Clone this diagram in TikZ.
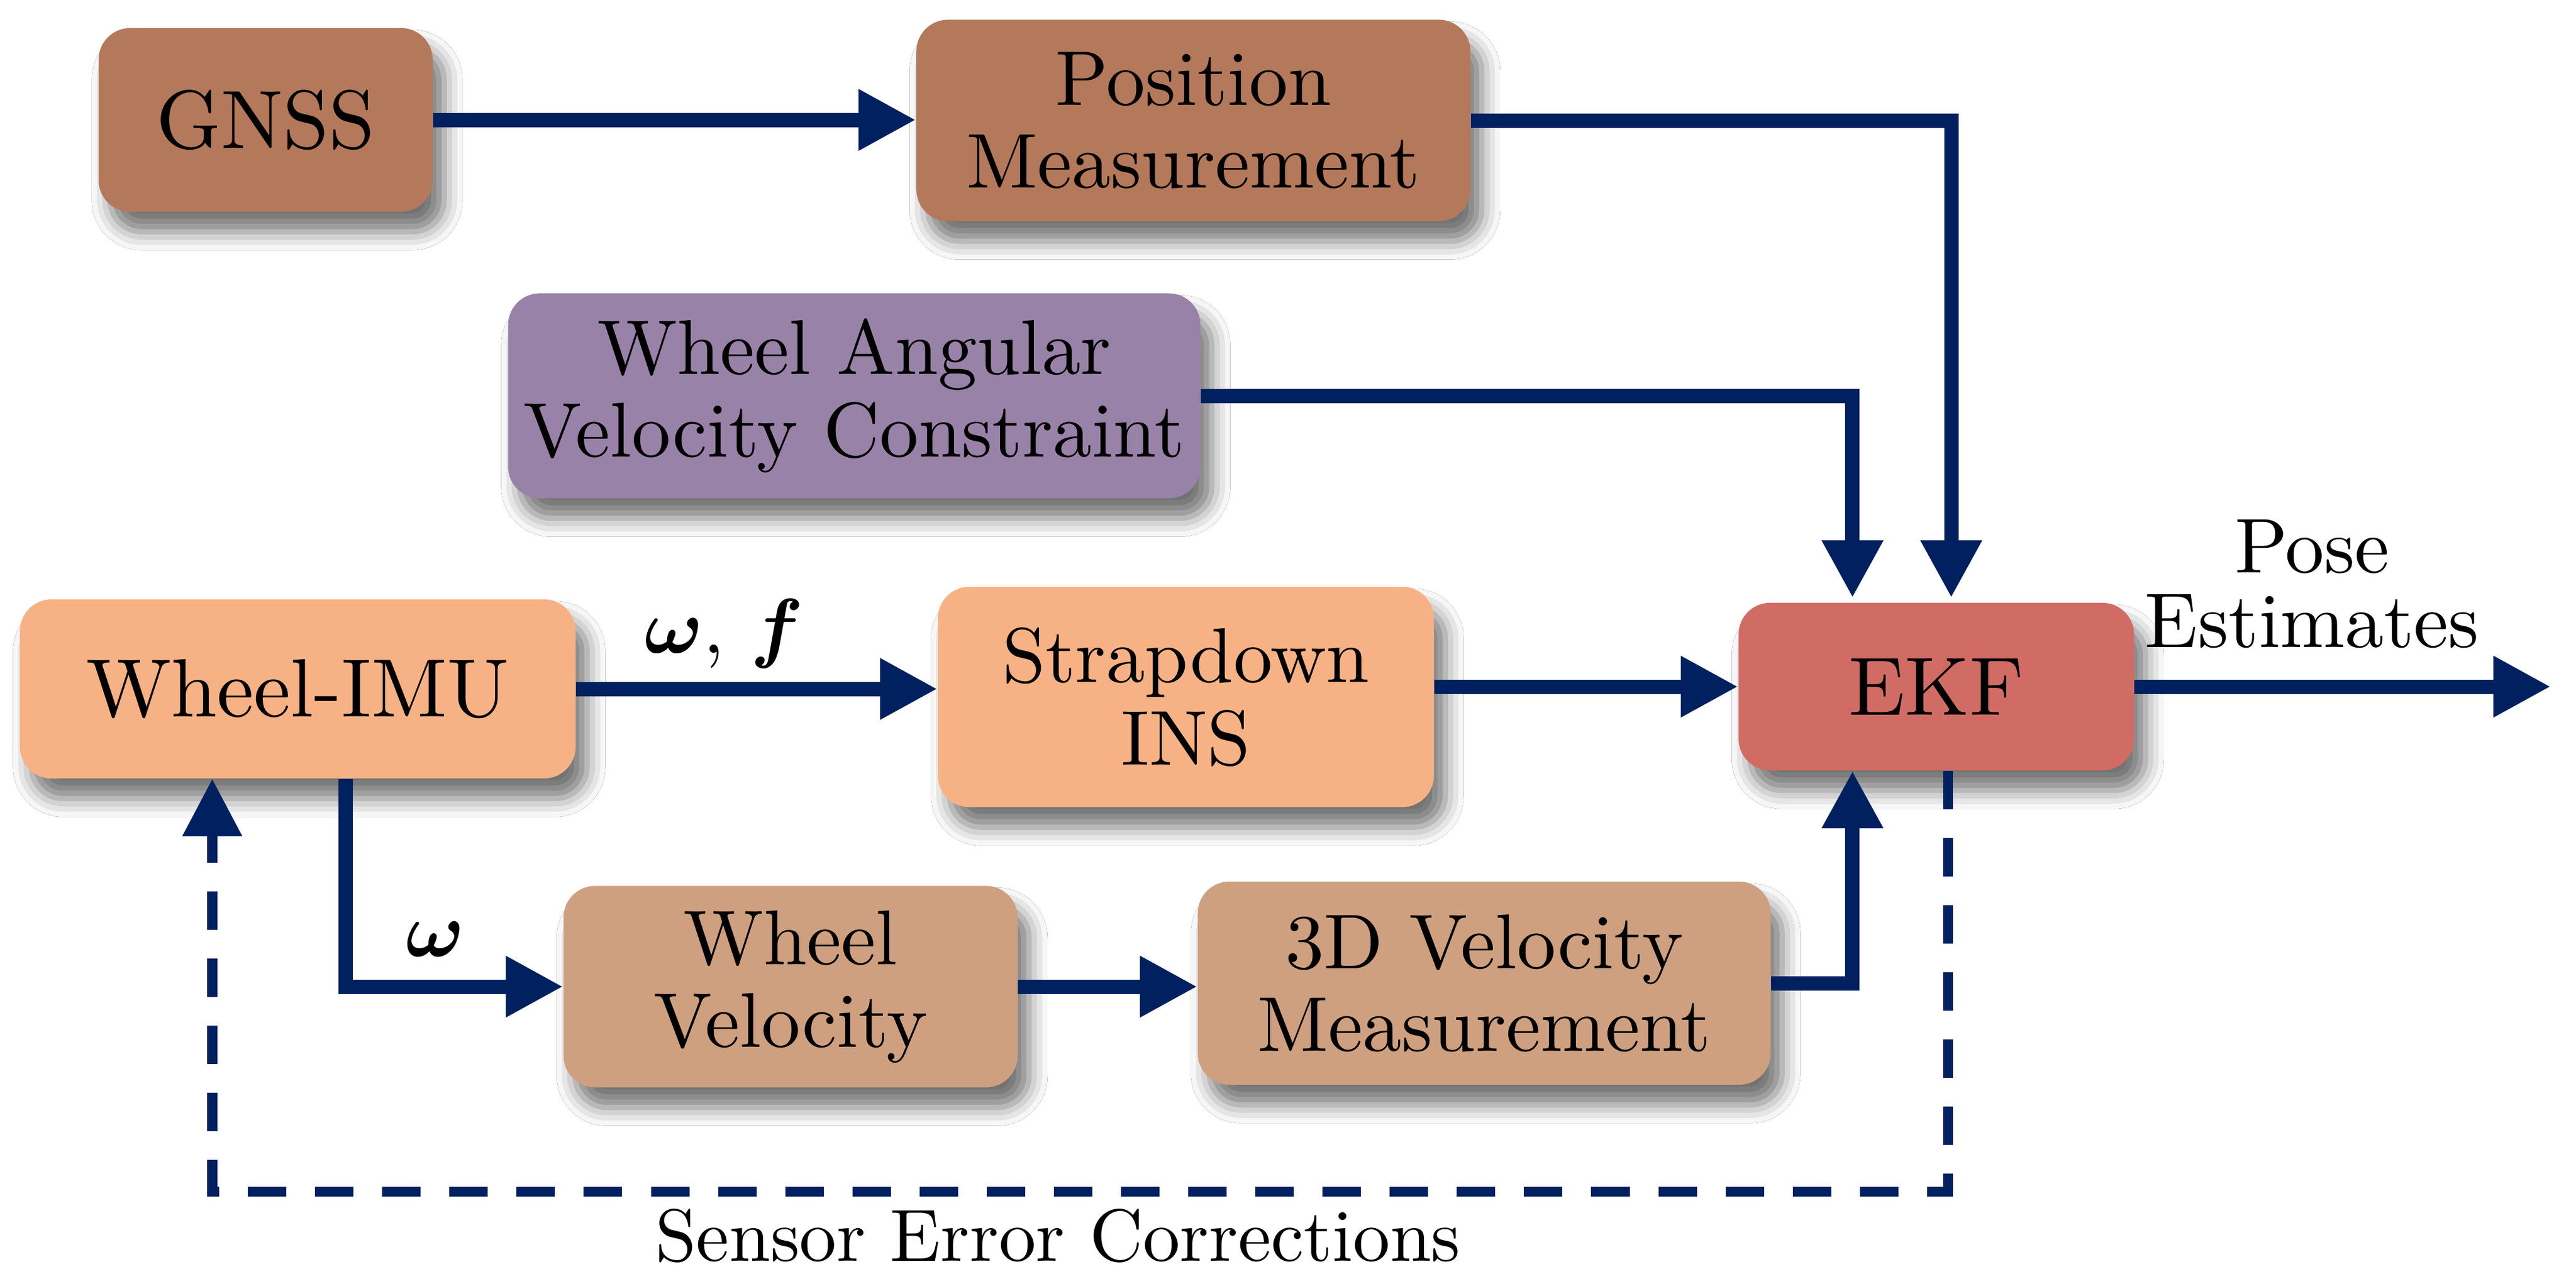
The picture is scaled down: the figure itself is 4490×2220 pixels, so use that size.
\RequirePackage{fix-cm}
\documentclass[tikz,border=0pt]{standalone}
\usepackage{fontspec}
\setmainfont{lmroman10-regular.otf}[BoldFont=lmroman10-bold.otf, ItalicFont=lmroman10-italic.otf, BoldItalicFont=lmroman10-bolditalic.otf]
\usepackage{bm}
\usetikzlibrary{arrows.meta,shadows.blur,calc}
\definecolor{navy}{RGB}{0,32,96}
\definecolor{cbrown}{RGB}{180,121,90}
\definecolor{cpurple}{RGB}{153,130,168}
\definecolor{cpeach}{RGB}{246,178,132}
\definecolor{cred}{RGB}{209,108,100}
\definecolor{ctan}{RGB}{206,160,128}
\begin{document}
\begin{tikzpicture}[x=0.01cm,y=-0.01cm,
  box/.style={rectangle, rounded corners=0.55cm, inner sep=0pt, align=center,
    font=\fontsize{38.5}{41}\selectfont,
    blur shadow={shadow xshift=0.2cm, shadow yshift=-0.35cm, shadow blur radius=0.32cm, shadow opacity=55}},
  bigtxt/.style={font=\fontsize{41}{44}\selectfont},
  arr/.style={draw=navy, line width=0.25cm, -{Triangle[length=1cm,width=1cm]}},
  fb/.style={draw=navy, line width=0.17cm, dash pattern=on 0.67cm off 0.5cm, -{Triangle[length=1cm,width=1cm]}},
  lbl/.style={inner sep=0pt, font=\fontsize{38.5}{41}\selectfont}
]
\fill[white] (0,0) rectangle (4490,2220);
\useasboundingbox (0,0) rectangle (4490,2220);

\node[box, bigtxt, fill=cbrown, minimum width=5.82cm, minimum height=3.2cm] (gnss) at (463,209) {GNSS};
\node[box, fill=cbrown, minimum width=9.65cm, minimum height=3.51cm] (pos) at (2080,210) {Position\\Measurement};
\node[box, fill=cpurple, minimum width=12.06cm, minimum height=3.57cm] (wavc) at (1489,690) {Wheel Angular\\Velocity Constraint};
\node[box, bigtxt, fill=cpeach, minimum width=9.68cm, minimum height=3.12cm] (imu) at (519,1201) {Wheel-IMU};
\node[box, fill=cpeach, minimum width=8.64cm, minimum height=3.84cm] (sd) at (2067,1215) {Strapdown\\INS};
\node[box, bigtxt, fill=cred, minimum width=6.89cm, minimum height=2.92cm] (ekf) at (3375,1197) {EKF};
\node[box, fill=ctan, minimum width=7.91cm, minimum height=3.51cm] (wv) at (1378,1720) {Wheel\\Velocity};
\node[box, fill=ctan, minimum width=9.98cm, minimum height=3.54cm] (vm) at (2587,1714) {3D Velocity\\Measurement};

\coordinate (out) at (4446,1197);
\coordinate (fbL) at (370,2077);

\draw[arr] (gnss.east) -- (gnss.east -| pos.west);
\draw[arr, shorten >=0.08cm] (pos.east) -| ([xshift=0.26cm]ekf.north);
\draw[arr, shorten >=0.08cm] (wavc.east) -| ([xshift=-1.46cm]ekf.north);
\draw[arr] (imu.east) -- (imu.east -| sd.west);
\draw[arr] (sd.east |- ekf.west) -- (ekf.west);
\draw[arr] (ekf.east) -- (out);
\draw[arr] ([xshift=0.83cm]imu.south) |- (wv.west);
\draw[arr] (wv.east) -- (wv.east -| vm.west);
\draw[arr] (vm.east) -| ([xshift=-1.46cm]ekf.south);
\draw[fb] ([xshift=0.2cm]ekf.south) |- (fbL) -- (fbL |- imu.south);

\node[lbl, anchor=base] (wf) at (1262,1138) {$\bm{\omega}$, $\bm{f}$};
\node[lbl, anchor=base] (w) at (759,1667) {$\bm{\omega}$};
\node[lbl, anchor=base, align=center, font=\fontsize{38.5}{36.7}\selectfont] (pose) at (4030,1128) {Pose\\Estimates};
\node[lbl, anchor=base, font=\fontsize{36.7}{40}\selectfont] (sec) at (1844,2198) {Sensor Error Corrections};
\end{tikzpicture}
\end{document}
